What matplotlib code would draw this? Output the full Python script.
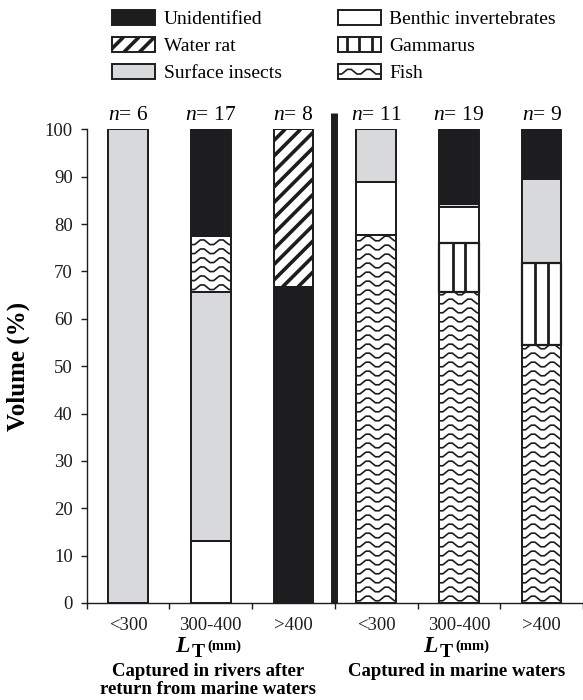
import numpy as np
import matplotlib
matplotlib.use("Agg")
import matplotlib.pyplot as plt
from matplotlib.patches import Rectangle, Patch
from matplotlib.lines import Line2D
from matplotlib.legend_handler import HandlerBase

plt.rcParams["font.family"] = ["Liberation Serif", "DejaVu Serif"]
plt.rcParams["mathtext.fontset"] = "custom"
plt.rcParams["mathtext.rm"] = "Liberation Serif"
plt.rcParams["mathtext.it"] = "Liberation Serif:italic"
plt.rcParams["mathtext.bf"] = "Liberation Serif:bold"
plt.rcParams["mathtext.bfit"] = "Liberation Serif:bold:italic"

# data
size_classes = ["<300", "300-400", ">400", "<300", "300-400", ">400"]
n_values = [6, 17, 8, 11, 19, 9]
categories = ["Unidentified", "Water rat", "Surface insects",
              "Benthic invertebrates", "Gammarus", "Fish"]
# stacking order per bar, bottom -> top
stack_order = [
    ["Surface insects"],
    ["Benthic invertebrates", "Surface insects", "Fish", "Unidentified"],
    ["Unidentified", "Water rat"],
    ["Fish", "Benthic invertebrates", "Surface insects"],
    ["Fish", "Gammarus", "Benthic invertebrates", "Surface insects", "Unidentified"],
    ["Fish", "Gammarus", "Surface insects", "Unidentified"],
]
stack_volume = [
    [100],
    [13.0, 52.7, 11.8, 22.5],
    [66.7, 33.3],
    [77.7, 11.1, 11.2],
    [65.6, 10.5, 7.4, 0.8, 15.7],
    [54.4, 17.3, 17.9, 10.4],
]
group_titles = ["Captured in rivers after\nreturn from marine waters",
                "Captured in marine waters"]

EDGE = "#1d1d1f"
fills = {"Unidentified": "#1d1d1f", "Water rat": "white",
         "Surface insects": "#d8d9db", "Benthic invertebrates": "white",
         "Gammarus": "white", "Fish": "white"}
patterns = {"Water rat": "stripes", "Gammarus": "vlines", "Fish": "waves"}

W, H, DPI = 5.83, 7.0, 100
rect = [0.1487, 0.1386, 0.8513, 0.6767]
sx = rect[2] * W * DPI / 6.0     # px per x unit
sy = rect[3] * H * DPI / 100.0   # px per y unit


def pattern_lines(kind, x0, y0, w, h, ux, uy, legend=False):
    """texture lines for a box; ux/uy = units per pixel"""
    out = []
    wp, hp = w / ux, h / uy
    if kind == "stripes":
        for c in np.arange(-hp - 4, wp + 16, 15.5):
            out.append(([x0 + c * ux, x0 + (c + hp) * ux], [y0, y0 + h], 2.6))
    elif kind == "vlines":
        sp = 12.5
        offs = [-sp, 0, sp] if legend else [-0.5 * sp, 0.5 * sp]
        for o in offs:
            xc = x0 + w / 2 + o * ux
            out.append(([xc, xc], [y0, y0 + h], 2.0))
    elif kind == "waves":
        per, amp, row = 19.0, 2.3, 9.0
        ph = np.array([0.0, 0.2, 0.5, 0.7])
        yy = np.array([-1, -1, 1, 1]) * amp
        k = np.arange(-1, int(wp / per) + 2)
        xs = (k[:, None] * per + ph[None, :] * per).ravel()
        ys = np.tile(yy, len(k))
        rows = [hp / 2] if legend else np.arange(row / 2, hp + row, row)
        for r in rows:
            out.append((x0 + xs * ux, y0 + (ys + r) * uy, 1.2))
    return out


class PatternHandler(HandlerBase):
    def create_artists(self, legend, orig_handle, xdescent, ydescent,
                       width, height, fontsize, trans):
        x0, y0 = -xdescent, -ydescent
        box = Rectangle((x0, y0), width, height, facecolor=orig_handle.get_facecolor(),
                        edgecolor="none", transform=trans)
        arts = [box]
        kind = patterns.get(orig_handle.get_label())
        if kind:
            for xs, ys, lw in pattern_lines(kind, x0, y0, width, height, 0.72, 0.72, True):
                ln = Line2D(xs, ys, color=EDGE, lw=lw, transform=trans,
                            solid_capstyle="butt")
                ln.set_clip_path(box)
                arts.append(ln)
        arts.append(Rectangle((x0, y0), width, height, fill=False,
                              edgecolor=EDGE, lw=1.4, transform=trans))
        return arts


fig = plt.figure(figsize=(W, H), dpi=DPI)
ax = fig.add_axes(rect)

x = np.arange(len(size_classes))
bw = 0.48
for i in range(len(x)):
    bottom = 0
    for cat, val in zip(stack_order[i], stack_volume[i]):
        bar = ax.bar(x[i], val, bw, bottom=bottom, color=fills[cat],
                     edgecolor=EDGE, lw=1.2, zorder=2)[0]
        if cat in patterns:
            for xs, ys, lw in pattern_lines(patterns[cat], x[i] - bw / 2, bottom,
                                            bw, val, 1 / sx, 1 / sy):
                ln, = ax.plot(xs, ys, color=EDGE, lw=lw, zorder=2.5,
                              solid_capstyle="butt")
                ln.set_clip_path(bar)
        ax.bar(x[i], val, bw, bottom=bottom, fill=False, edgecolor=EDGE,
               lw=1.6 if cat == "Gammarus" else 1.3, zorder=3)
        bottom += val
    ax.text(x[i], 102, "$n$= %d" % n_values[i], ha="center", va="baseline",
            fontsize=15.5)

# divider between river and marine groups
ax.plot([2.49, 2.49], [0, 103.5], color=EDGE, lw=5, solid_capstyle="butt",
        clip_on=False, zorder=3)

ax.set_xlim(-0.5, 5.5)
ax.set_ylim(0, 100)
ax.spines["top"].set_visible(False)
ax.spines["right"].set_visible(False)
for s in ("left", "bottom"):
    ax.spines[s].set_linewidth(1.0)
    ax.spines[s].set_color(EDGE)

ax.set_yticks(np.arange(0, 101, 10))
ax.tick_params(axis="y", direction="out", length=4, width=1, pad=6, labelsize=13.5,
               colors=EDGE)
ax.set_xticks(np.arange(-0.5, 6, 1))
ax.set_xticklabels([])
ax.tick_params(axis="x", which="major", direction="out", length=4, width=1, colors=EDGE)
ax.set_xticks(x, minor=True)
ax.set_xticklabels(size_classes, minor=True)
ax.tick_params(axis="x", which="minor", length=0, pad=10, labelsize=13.5, colors=EDGE)

ax.set_ylabel("Volume (%)", fontsize=18, fontweight="bold")
ax.yaxis.set_label_coords(-0.114, 0.5)

for gx, title in zip([1, 4], group_titles):
    ax.annotate(r"$\mathbfit{L}$", (gx, 0), xycoords=("data", "axes fraction"),
                xytext=(-26, -35.5), textcoords="offset points", ha="left",
                va="baseline", fontsize=17)
    ax.annotate("T", (gx, 0), xycoords=("data", "axes fraction"),
                xytext=(-14, -39), textcoords="offset points", ha="left",
                va="baseline", fontsize=14, fontweight="bold")
    ax.annotate("(mm)", (gx, 0), xycoords=("data", "axes fraction"),
                xytext=(-2.5, -34), textcoords="offset points", ha="left",
                va="baseline", fontsize=10.5, fontweight="bold")
    ax.annotate(title, (gx, 0), xycoords=("data", "axes fraction"),
                xytext=(-2, -43), textcoords="offset points", ha="center",
                va="top", fontsize=13.5, fontweight="bold", linespacing=1.1)

handles = [Patch(facecolor=fills[c], label=c) for c in categories]
fig.legend(handles=handles, ncol=2, loc="upper left",
           bbox_to_anchor=(112 / 583, 1 - 10 / 700), frameon=False,
           fontsize=14, handlelength=2.2, handleheight=0.82, handletextpad=0.45,
           columnspacing=2.9, labelspacing=0.45, borderpad=0, borderaxespad=0,
           handler_map={Patch: PatternHandler()})

fig.savefig("out.png", dpi=DPI)
